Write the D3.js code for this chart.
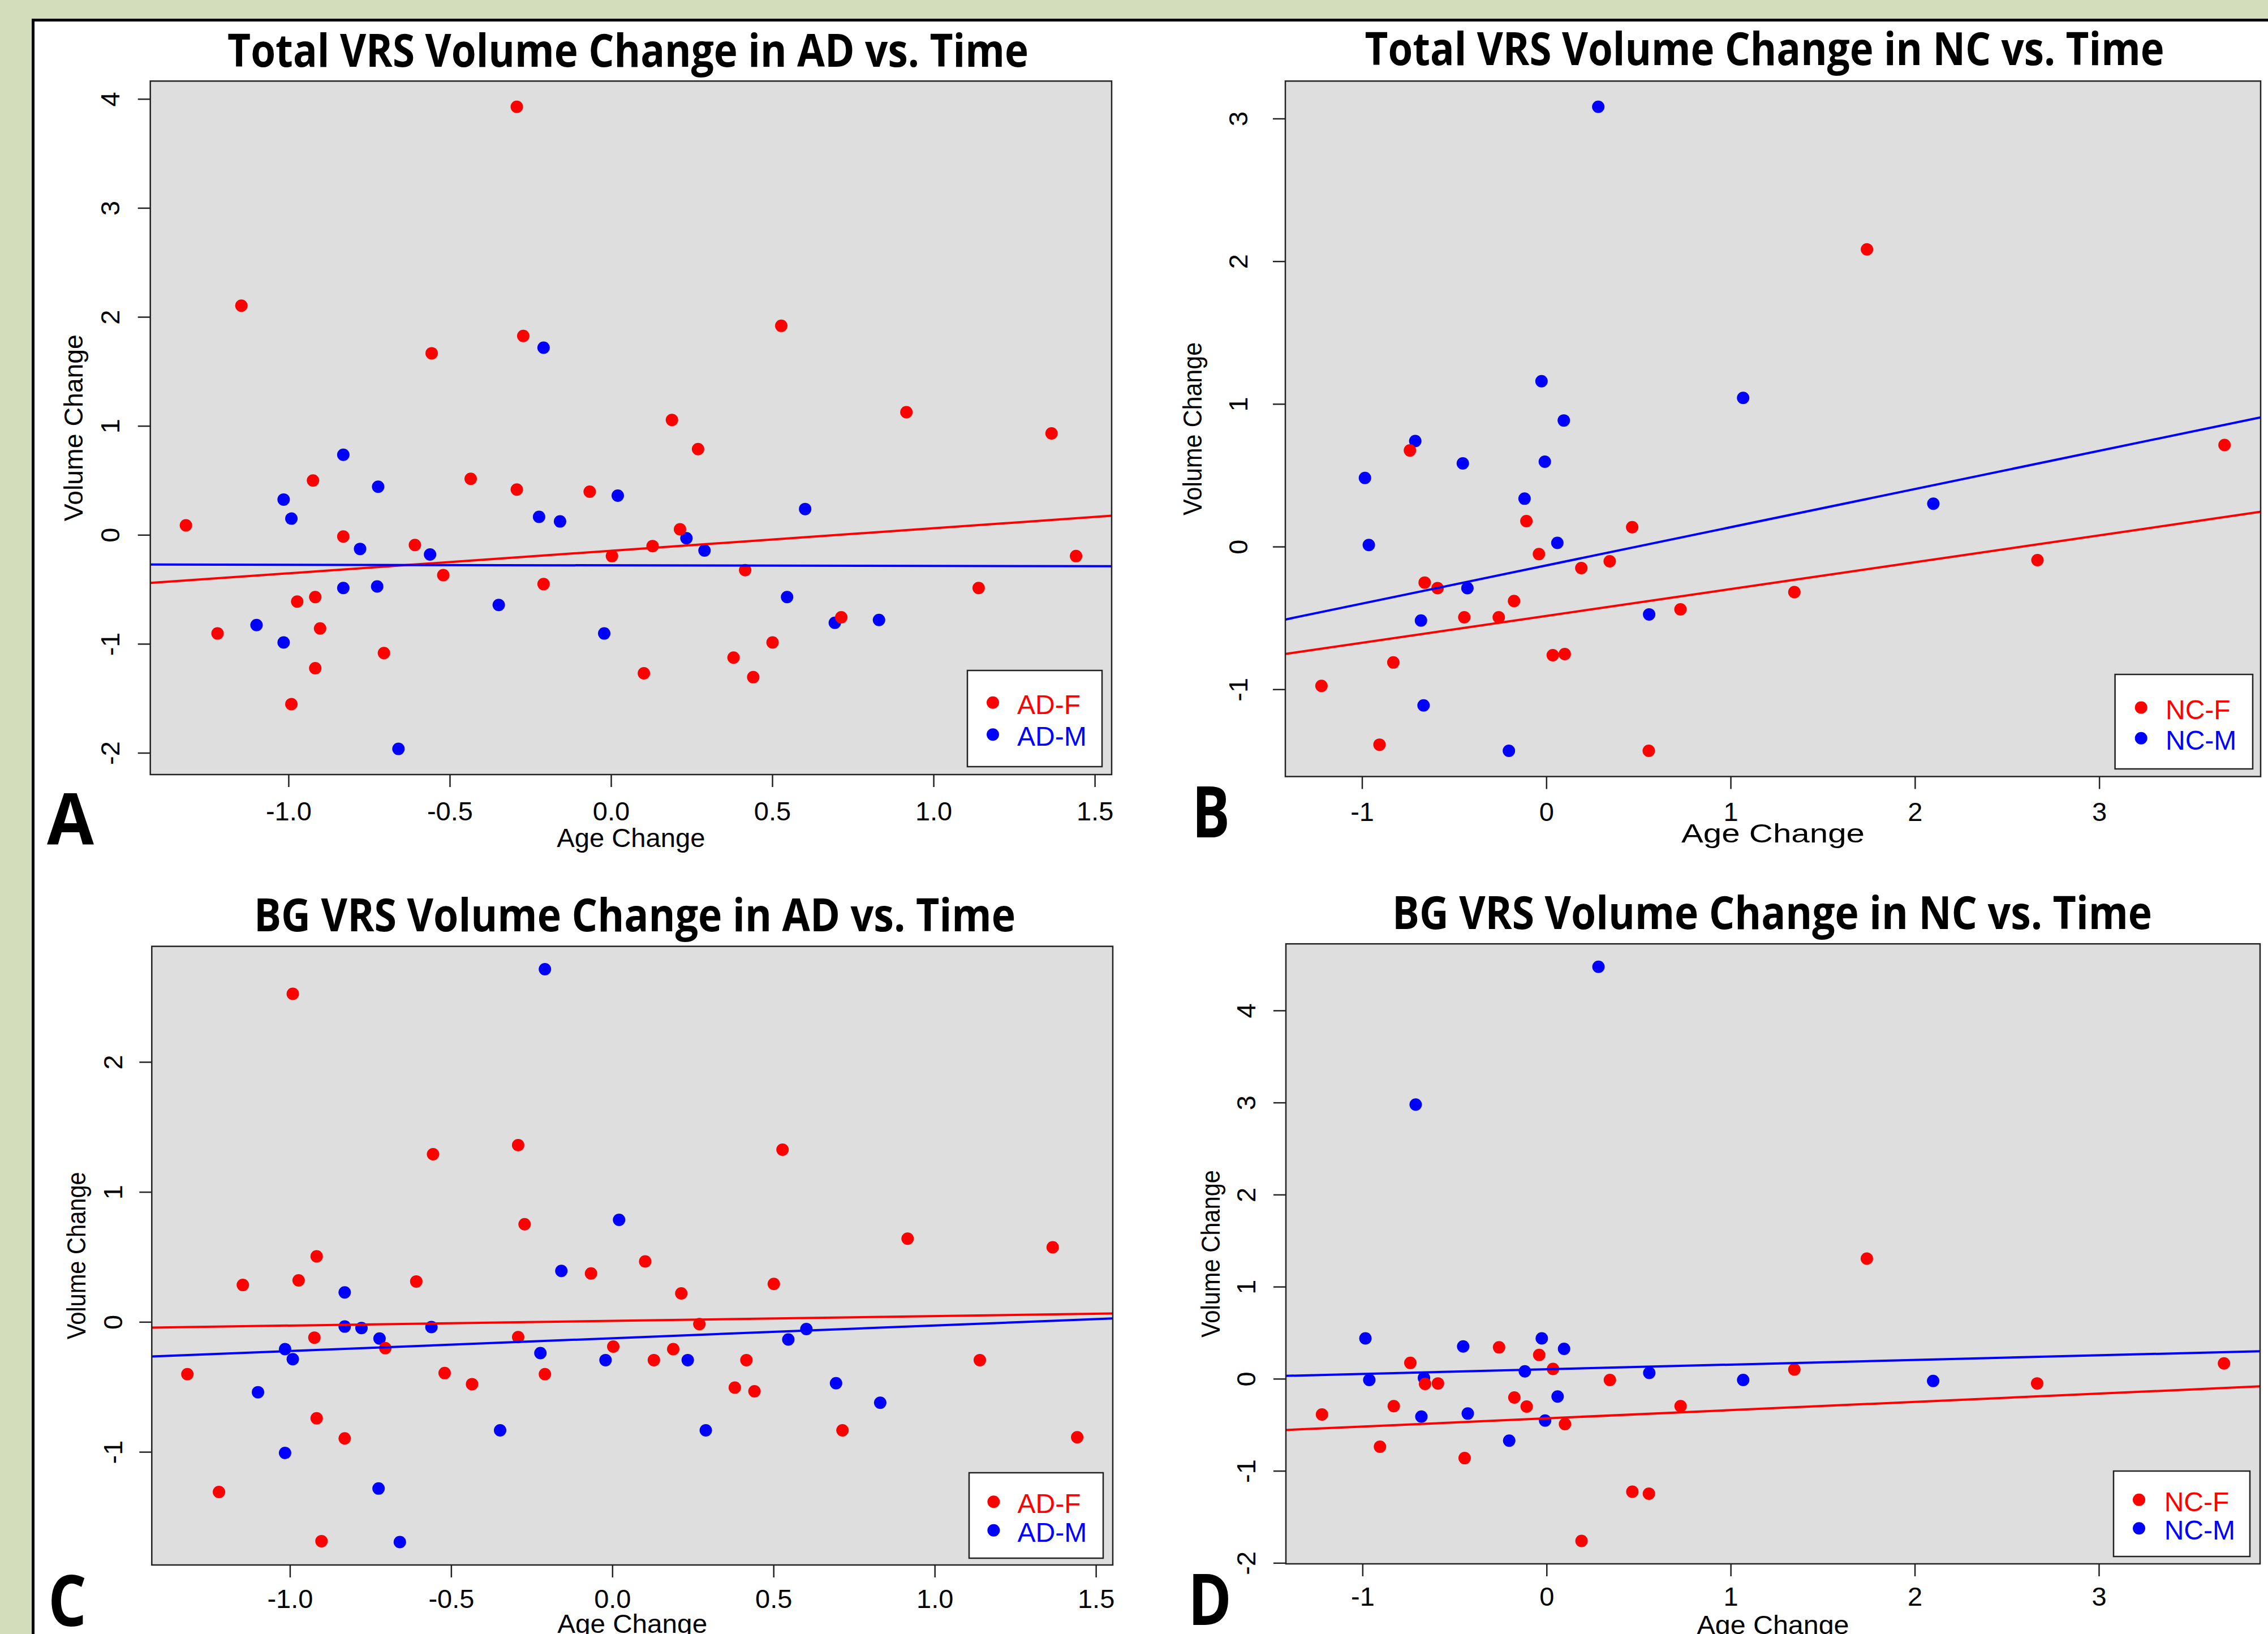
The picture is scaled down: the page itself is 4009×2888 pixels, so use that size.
<!DOCTYPE html>
<html>
<head>
<meta charset="utf-8">
<script src="https://cdn.jsdelivr.net/npm/d3@7"></script>
<style>
  body { margin: 0; background: #d3ddbb; }
  svg { display: block; }
</style>
</head>
<body>
<div id="chart"></div>
<script>
const W = 4009, H = 2888;

// ---- data ----
const titles = [
  "Total VRS Volume Change in AD vs. Time",
  "Total VRS Volume Change in NC vs. Time",
  "BG VRS Volume Change in AD vs. Time",
  "BG VRS Volume Change in NC vs. Time"
];
const letters = ["A", "B", "C", "D"];

// AD subjects (same ages in panels A and C)
const adFAge = [-1.318, -1.220, -1.146, -0.991, -0.973, -0.924, -0.917, -0.917, -0.902, -0.830, -0.704, -0.608,
  -0.556, -0.520, -0.435, -0.292, -0.292, -0.272, -0.209, -0.066, 0.003, 0.102, 0.129, 0.189,
  0.214, 0.270, 0.380, 0.416, 0.441, 0.501, 0.528, 0.714, 0.916, 1.140, 1.366, 1.442];
const adMAge = [-1.099, -1.015, -1.015, -0.991, -0.830, -0.830, -0.778, -0.725, -0.722, -0.659, -0.561, -0.348,
  -0.223, -0.209, -0.158, -0.021, 0.021, 0.234, 0.290, 0.546, 0.602, 0.694, 0.831];
const totalADF = [0.087, -0.905, 2.103, -1.553, -0.612, 0.499, -0.571, -1.224, -0.859, -0.015, -1.085, -0.093,
  1.666, -0.370, 0.514, 3.928, 0.416, 1.825, -0.452, 0.396, -0.195, -1.270, -0.103, 1.054,
  0.051, 0.787, -1.126, -0.324, -1.306, -0.987, 1.918, -0.756, 1.126, -0.488, 0.931, -0.195];
const totalADM = [-0.828, 0.324, -0.987, 0.149, 0.735, -0.488, -0.129, -0.473, 0.442, -1.964, -0.180, -0.643,
  0.165, 1.717, 0.123, -0.905, 0.360, -0.031, -0.144, -0.571, 0.237, -0.807, -0.781];
const bgADF = [-0.402, -1.309, 0.284, 2.524, 0.319, -0.121, 0.504, -0.742, -1.687, -0.896, -0.202, 0.311,
  1.290, -0.394, -0.479, 1.360, -0.117, 0.751, -0.402, 0.373, -0.190, 0.465, -0.294, -0.210,
  0.219, -0.017, -0.506, -0.294, -0.534, 0.292, 1.325, -0.834, 0.640, -0.294, 0.574, -0.888];
const bgADM = [-0.541, -0.210, -1.008, -0.287, 0.227, -0.036, -0.047, -1.282, -0.128, -1.694, -0.040, -0.834,
  -0.240, 2.713, 0.392, -0.294, 0.785, -0.294, -0.834, -0.136, -0.055, -0.472, -0.622];

// NC subjects (same ages in panels B and D)
const ncFAge = [-1.220, -0.905, -0.830, -0.740, -0.660, -0.590, -0.445, -0.258, -0.175, -0.108, -0.040, 0.035,
  0.100, 0.190, 0.344, 0.466, 0.556, 0.728, 1.346, 1.740, 2.665, 3.680];
const ncMAge = [-0.984, -0.963, -0.711, -0.680, -0.666, -0.453, -0.428, -0.203, -0.118, -0.026, -0.008, 0.060,
  0.095, 0.282, 0.558, 1.068, 2.100];
const totalNCF = [-0.976, -1.388, -0.812, 0.674, -0.252, -0.291, -0.495, -0.495, -0.381, 0.179, -0.052, -0.761,
  -0.753, -0.150, -0.103, 0.136, -1.431, -0.440, -0.319, 2.083, -0.095, 0.712];
const totalNCM = [0.481, 0.011, 0.740, -0.518, -1.113, 0.583, -0.291, -1.431, 0.336, 1.159, 0.595, 0.026,
  0.884, 3.082, -0.475, 1.042, 0.301];
const bgNCF = [-0.388, -0.738, -0.297, 0.172, -0.056, -0.051, -0.862, 0.341, -0.204, -0.302, 0.259, 0.107,
  -0.492, -1.761, -0.013, -1.227, -1.249, -0.297, 0.101, 1.305, -0.051, 0.167];
const bgNCM = [0.439, -0.013, 2.978, -0.411, 0.009, 0.351, -0.378, -0.672, 0.080, 0.439, -0.454, -0.193,
  0.325, 4.474, 0.064, -0.013, -0.024];

// fitted lines, [intercept, slope] for F then M
const fitTotalAD = [[-0.146, 0.2068], [-0.280, -0.0052]];
const fitTotalNC = [[-0.486, 0.1883], [-0.132, 0.2677]];
const fitBgAD = [[0.008, 0.0362], [-0.126, 0.0982]];
const fitBgNC = [[-0.430, 0.0895], [0.103, 0.0505]];

// tick values
const adAgeTicks = [-1, -0.5, 0, 0.5, 1, 1.5];
const ncAgeTicks = [-1, 0, 1, 2, 3];
const totalADTicks = [-2, -1, 0, 1, 2, 3, 4];
const totalNCTicks = [-1, 0, 1, 2, 3];
const bgADTicks = [-1, 0, 1, 2];
const bgNCTicks = [-2, -1, 0, 1, 2, 3, 4];

const adLegend = ["AD-F", "AD-M"];
const ncLegend = ["NC-F", "NC-M"];
const groupColors = ["#ff0000", "#0000ff"];

// ---- layout ----
const AXIS_FONT = "'Liberation Sans', Arial, sans-serif";
const TITLE_FONT = "'Open Sans', 'Noto Sans', sans-serif";

const panels = [
  { title: titles[0], letter: letters[0], fx: adFAge, mx: adMAge, fy: totalADF, my: totalADM, fit: fitTotalAD,
    xt: adAgeTicks, yt: totalADTicks, fmt: d => d.toFixed(1), legend: adLegend,
    x0: 265.7, x1: 1965, y0: 143.3, y1: 1369,
    titleX: 1110, titleY: 118, titleLen: 1416,
    letterX: 83, letterY: 1492, letterLen: 83,
    yTickOff: 55, yTitleOff: 120, xTickOff: 81, xTitleOff: 128, yTitleLen: 330, xTitleLen: 262,
    leg: { x0: 1710, x1: 1948, y0: 1185, y1: 1355, dotX: 1755, textX: 1798, rows: [1241.7, 1298.3] } },
  { title: titles[1], letter: letters[1], fx: ncFAge, mx: ncMAge, fy: totalNCF, my: totalNCM, fit: fitTotalNC,
    xt: ncAgeTicks, yt: totalNCTicks, fmt: d => String(d), legend: ncLegend,
    x0: 2272, x1: 3996, y0: 143.3, y1: 1372.5,
    titleX: 3119, titleY: 115, titleLen: 1413,
    letterX: 2107, letterY: 1480, letterLen: 67,
    yTickOff: 67, yTitleOff: 148, xTickOff: 78.5, xTitleOff: 116.5, yTitleLen: 306, xTitleLen: 324,
    leg: { x0: 3738.6, x1: 3982, y0: 1192, y1: 1359, dotX: 3784.7, textX: 3828, rows: [1250.5, 1304.8] } },
  { title: titles[2], letter: letters[2], fx: adFAge, mx: adMAge, fy: bgADF, my: bgADM, fit: fitBgAD,
    xt: adAgeTicks, yt: bgADTicks, fmt: d => d.toFixed(1), legend: adLegend,
    x0: 268.3, x1: 1967, y0: 1672.6, y1: 2766,
    titleX: 1122, titleY: 1646, titleLen: 1346,
    letterX: 85, letterY: 2874, letterLen: 68,
    yTickOff: 52, yTitleOff: 117, xTickOff: 76, xTitleOff: 120, yTitleLen: 296, xTitleLen: 265,
    leg: { x0: 1713, x1: 1950, y0: 2603, y1: 2754, dotX: 1756.4, textX: 1798.5, rows: [2654.3, 2704.8] } },
  { title: titles[3], letter: letters[3], fx: ncFAge, mx: ncMAge, fy: bgNCF, my: bgNCM, fit: fitBgNC,
    xt: ncAgeTicks, yt: bgNCTicks, fmt: d => String(d), legend: ncLegend,
    x0: 2273, x1: 3995, y0: 1668.2, y1: 2764,
    titleX: 3132.5, titleY: 1641.6, titleLen: 1343,
    letterX: 2100, letterY: 2872, letterLen: 77,
    yTickOff: 54, yTitleOff: 117, xTickOff: 74, xTitleOff: 124, yTitleLen: 296, xTitleLen: 269,
    leg: { x0: 3736, x1: 3977, y0: 2600, y1: 2751, dotX: 3781, textX: 3825.7, rows: [2650.8, 2701.2] } }
];

// R's default axis range: data extent padded by 4%
const padExtent = vals => {
  const [lo, hi] = d3.extent(vals);
  const e = (hi - lo) * 0.04;
  return [lo - e, hi + e];
};

const svg = d3.select("#chart").append("svg")
  .attr("width", W).attr("height", H)
  .attr("viewBox", `0 0 ${W} ${H}`);

svg.append("rect").attr("width", W).attr("height", H).attr("fill", "#d3ddbb");
svg.append("rect")
  .attr("x", 58.5).attr("y", 35.5).attr("width", W + 20).attr("height", H + 20)
  .attr("fill", "#ffffff").attr("stroke", "#000").attr("stroke-width", 5);

panels.forEach((p, i) => {
  const x = d3.scaleLinear().domain(padExtent(p.fx.concat(p.mx))).range([p.x0, p.x1]);
  const y = d3.scaleLinear().domain(padExtent(p.fy.concat(p.my))).range([p.y1, p.y0]);

  const g = svg.append("g");

  // title
  g.append("text")
    .attr("x", p.titleX).attr("y", p.titleY)
    .attr("text-anchor", "middle")
    .attr("font-family", TITLE_FONT).attr("font-weight", 700).attr("font-size", 80)
    .attr("textLength", p.titleLen).attr("lengthAdjust", "spacingAndGlyphs")
    .text(p.title);

  // plot background
  g.append("rect")
    .attr("x", p.x0).attr("y", p.y0)
    .attr("width", p.x1 - p.x0).attr("height", p.y1 - p.y0)
    .attr("fill", "#dedede");

  const clipId = "clip" + i;
  g.append("clipPath").attr("id", clipId).append("rect")
    .attr("x", p.x0).attr("y", p.y0)
    .attr("width", p.x1 - p.x0).attr("height", p.y1 - p.y0);

  const plot = g.append("g").attr("clip-path", `url(#${clipId})`);

  // points: males then females
  const groups = [
    { xs: p.mx, ys: p.my, color: groupColors[1] },
    { xs: p.fx, ys: p.fy, color: groupColors[0] }
  ];
  groups.forEach(gr => {
    plot.selectAll(null)
      .data(gr.xs.map((v, k) => [v, gr.ys[k]]))
      .join("circle")
      .attr("cx", d => x(d[0])).attr("cy", d => y(d[1]))
      .attr("r", 11).attr("fill", gr.color);
  });

  // fitted lines
  const dom = x.domain();
  p.fit.forEach((f, k) => {
    plot.append("line")
      .attr("x1", x(dom[0])).attr("y1", y(f[0] + f[1] * dom[0]))
      .attr("x2", x(dom[1])).attr("y2", y(f[0] + f[1] * dom[1]))
      .attr("stroke", groupColors[k]).attr("stroke-width", 4);
  });

  // box
  g.append("rect")
    .attr("x", p.x0).attr("y", p.y0)
    .attr("width", p.x1 - p.x0).attr("height", p.y1 - p.y0)
    .attr("fill", "none").attr("stroke", "#222").attr("stroke-width", 2.5);

  // x axis
  const gx = g.append("g")
    .attr("transform", `translate(0,${p.y1})`)
    .call(d3.axisBottom(x).tickValues(p.xt).tickFormat(p.fmt).tickSize(22).tickSizeOuter(0));
  gx.select(".domain").remove();
  gx.attr("font-family", AXIS_FONT).attr("font-size", 47);
  gx.selectAll(".tick line").attr("stroke", "#222").attr("stroke-width", 2.5);
  gx.selectAll(".tick text").attr("y", p.xTickOff).attr("dy", 0).attr("fill", "#000");

  // y axis
  const gy = g.append("g")
    .attr("transform", `translate(${p.x0},0)`)
    .call(d3.axisLeft(y).tickValues(p.yt).tickFormat(d => String(d)).tickSize(22).tickSizeOuter(0));
  gy.select(".domain").remove();
  gy.attr("font-family", AXIS_FONT).attr("font-size", 47);
  gy.selectAll(".tick line").attr("stroke", "#222").attr("stroke-width", 2.5);
  gy.selectAll(".tick text")
    .attr("x", 0).attr("dy", 0)
    .attr("text-anchor", "middle")
    .attr("fill", "#000")
    .attr("transform", `translate(${-p.yTickOff},0) rotate(-90)`);

  // axis titles
  g.append("text")
    .attr("x", (p.x0 + p.x1) / 2).attr("y", p.y1 + p.xTitleOff)
    .attr("text-anchor", "middle")
    .attr("font-family", AXIS_FONT).attr("font-size", 47)
    .attr("textLength", p.xTitleLen).attr("lengthAdjust", "spacingAndGlyphs")
    .text("Age Change");
  g.append("text")
    .attr("transform", `translate(${p.x0 - p.yTitleOff},${(p.y0 + p.y1) / 2}) rotate(-90)`)
    .attr("text-anchor", "middle")
    .attr("font-family", AXIS_FONT).attr("font-size", 47)
    .attr("textLength", p.yTitleLen).attr("lengthAdjust", "spacingAndGlyphs")
    .text("Volume Change");

  // legend
  const L = p.leg;
  g.append("rect")
    .attr("x", L.x0).attr("y", L.y0)
    .attr("width", L.x1 - L.x0).attr("height", L.y1 - L.y0)
    .attr("fill", "#fff").attr("stroke", "#222").attr("stroke-width", 2.5);
  p.legend.forEach((lab, k) => {
    g.append("circle")
      .attr("cx", L.dotX).attr("cy", L.rows[k]).attr("r", 11)
      .attr("fill", groupColors[k]);
    g.append("text")
      .attr("x", L.textX).attr("y", L.rows[k] + 20)
      .attr("font-family", AXIS_FONT).attr("font-size", 48)
      .attr("fill", groupColors[k])
      .text(lab);
  });

  // panel letter
  g.append("text")
    .attr("x", p.letterX).attr("y", p.letterY)
    .attr("font-family", TITLE_FONT).attr("font-weight", 700).attr("font-size", 125)
    .attr("textLength", p.letterLen).attr("lengthAdjust", "spacingAndGlyphs")
    .text(p.letter);
});
</script>
</body>
</html>
